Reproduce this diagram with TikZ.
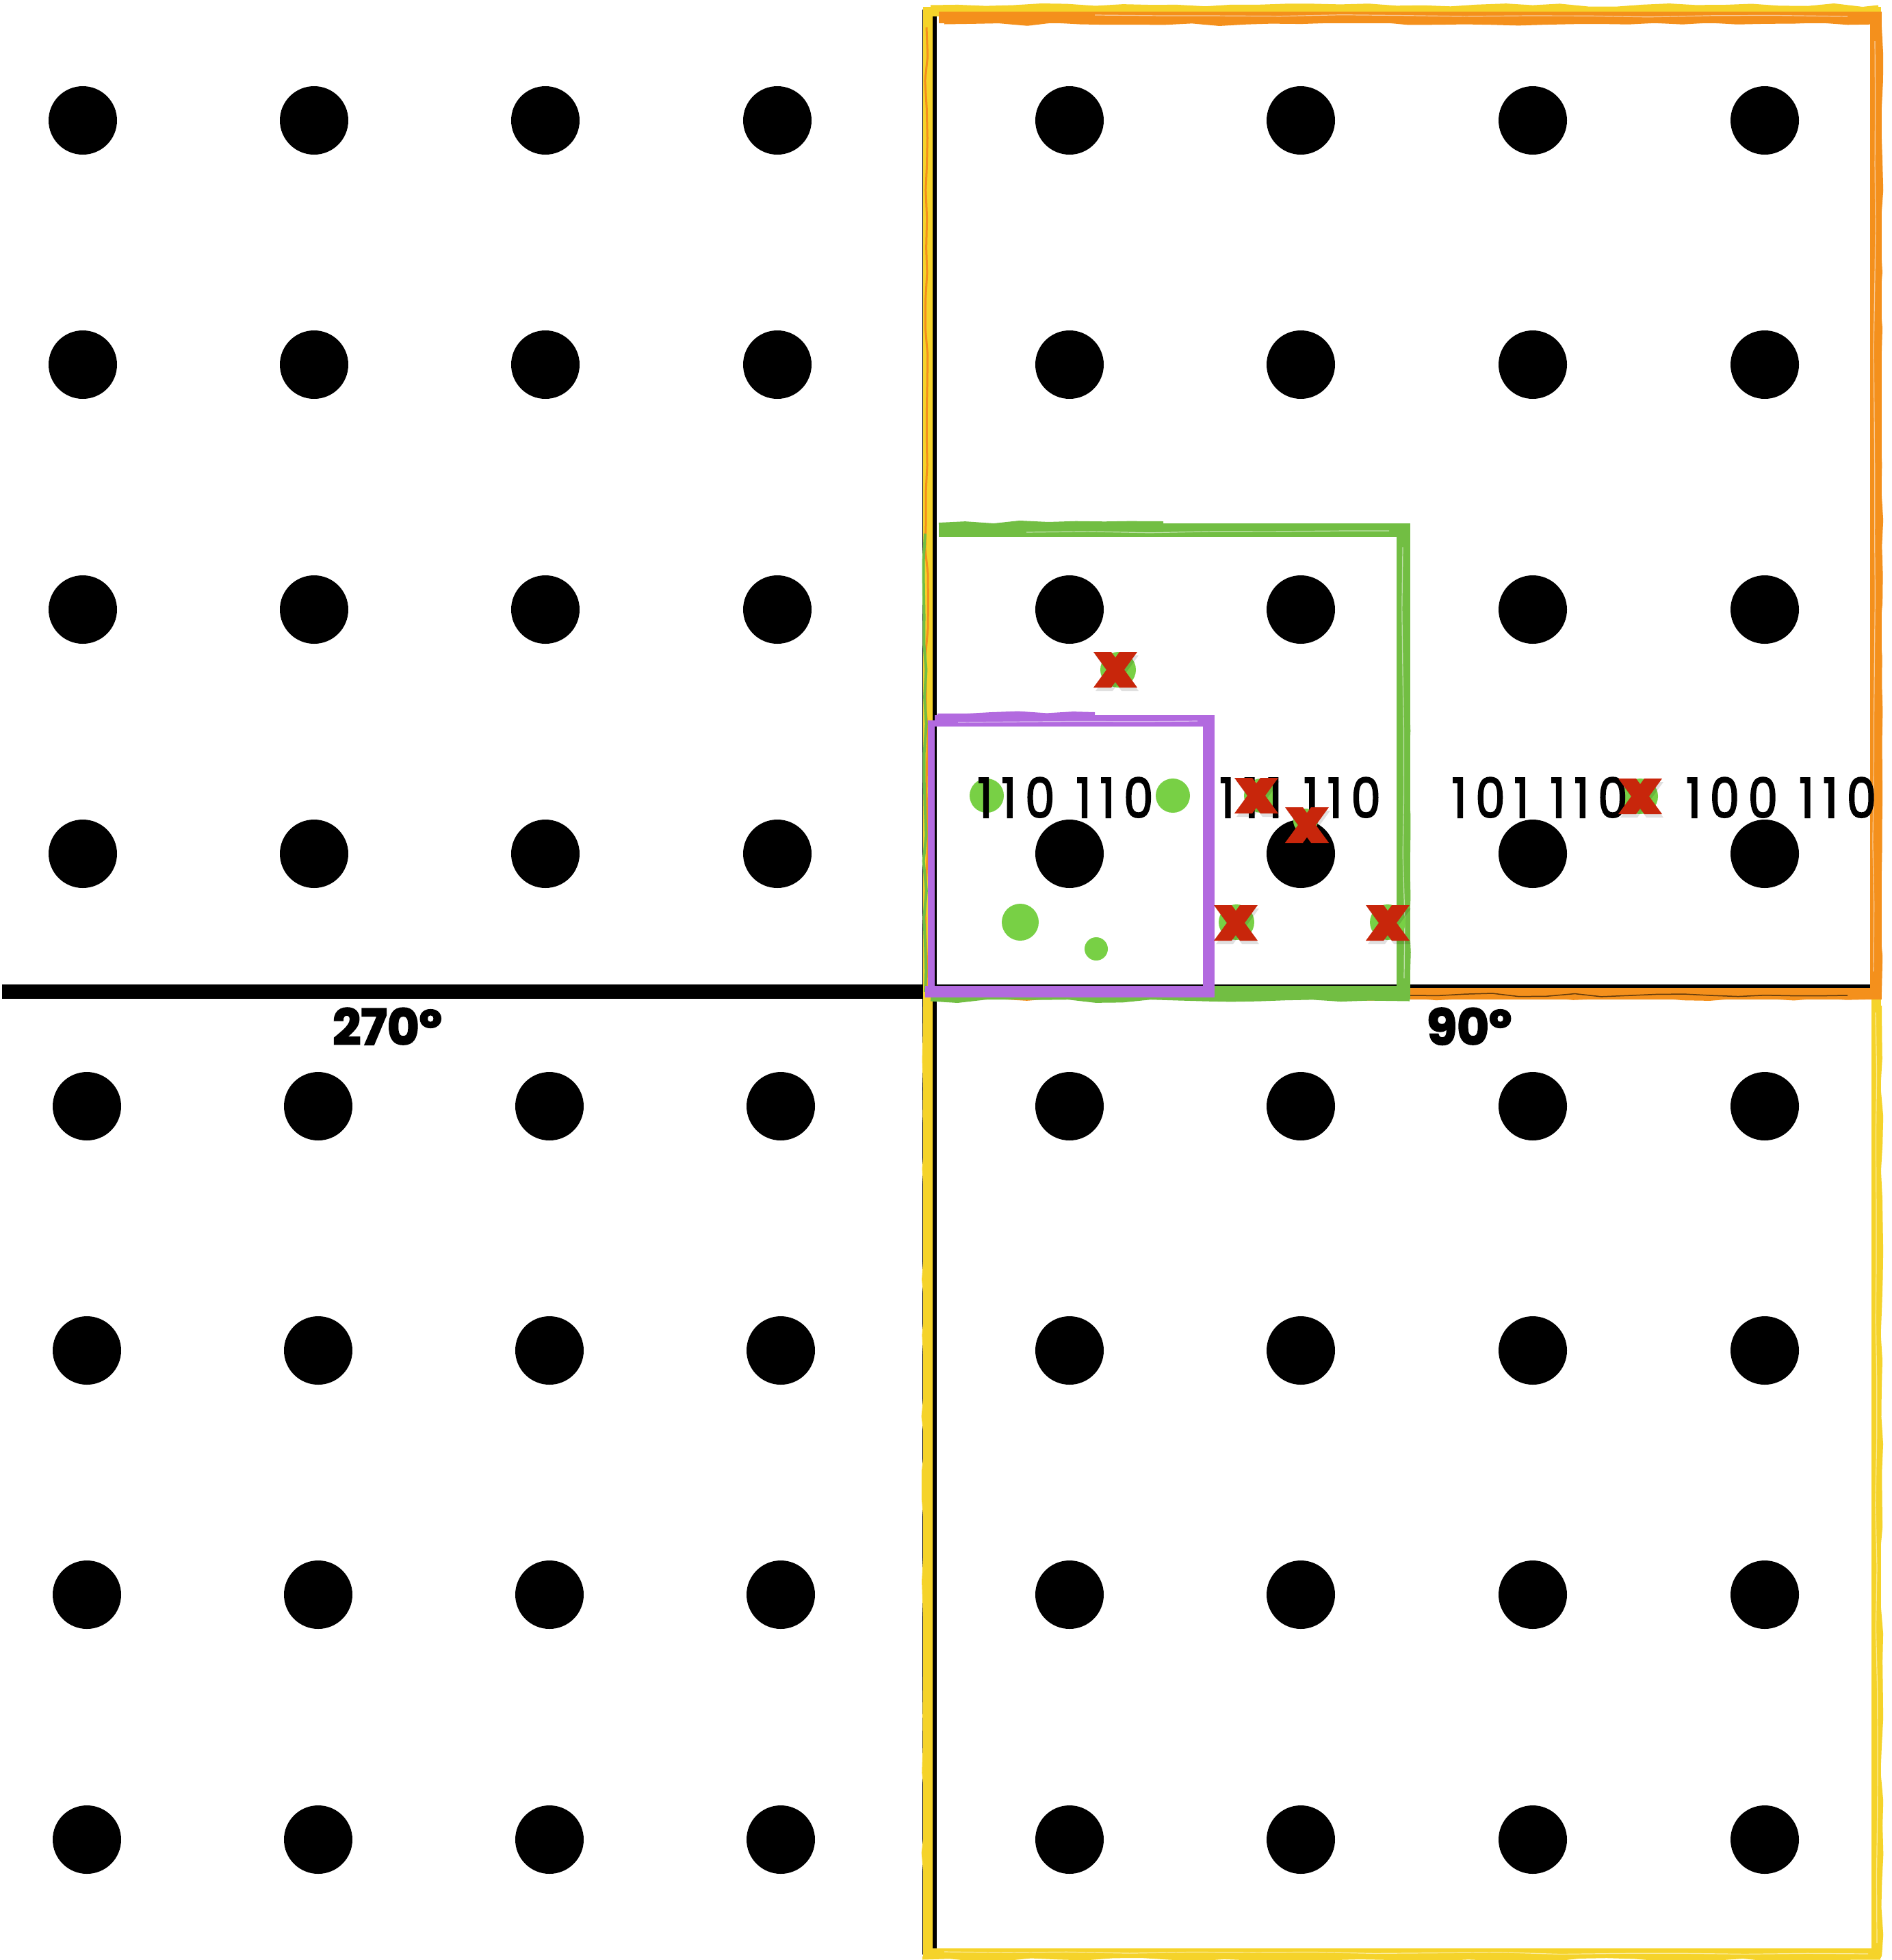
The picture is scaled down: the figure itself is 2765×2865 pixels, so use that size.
\documentclass[tikz,border=0pt]{standalone}
\usepackage{fontspec}
\usetikzlibrary{decorations.pathmorphing}
\newfontfamily\popfont[FakeStretch=0.86,LetterSpace=16,FakeBold=2.5]{Poppins}
\newfontfamily\popbold[FakeBold=3]{Poppins}
\definecolor{orng}{HTML}{F4901C}
\definecolor{yel}{HTML}{F5D32A}
\definecolor{grn}{HTML}{72BE43}
\definecolor{gdot}{HTML}{78D045}
\definecolor{purp}{HTML}{B26ADF}
\definecolor{xred}{HTML}{C8260B}
\newcommand{\redcross}[2]{%
  \begin{scope}[shift={(#1,#2)}]
    \fill[black, opacity=0.12] (-29,-21)--(-4,-21)--(34,31)--(9,31)--cycle;
    \fill[black, opacity=0.12] (9,-21)--(34,-21)--(-4,31)--(-29,31)--cycle;
    \fill[xred] (-32,-26)--(-6,-26)--(32,26)--(6,26)--cycle;
    \fill[xred] (6,-26)--(32,-26)--(-6,26)--(-32,26)--cycle;
  \end{scope}}
\begin{document}
\begin{tikzpicture}[x=1pt,y=-1pt,
  dot/.style={circle,fill=black,inner sep=0pt,minimum size=100pt},
  gd/.style={circle,fill=gdot,inner sep=0pt},
  lab/.style={font=\popfont\fontsize{80}{90}\selectfont,inner sep=0pt,anchor=base},
  ang/.style={font=\popbold\bfseries\fontsize{72}{80}\selectfont,inner sep=0pt,anchor=base},
  rough/.style={decorate,decoration={random steps,segment length=40pt,amplitude=2.5pt}},
  streak/.style={white,line width=1.2pt,opacity=0.55,decorate,decoration={random steps,segment length=90pt,amplitude=1.5pt}}]
\pgfmathsetseed{7}
\useasboundingbox (0,0) rectangle (2765,2865);
\fill[white] (0,0) rectangle (2765,2865);
% axes
\draw[line width=21pt] (3,1449) -- (2735,1449);
\draw[line width=21pt] (1358,14) -- (1358,2857);
% black dots
\foreach \c [count=\i] in {121,459,797,1136}
  \foreach \r [count=\j] in {176,533,891,1248}
    \node[dot] (ul\i\j) at (\c,\r) {};
\foreach \c [count=\i] in {127,465,803,1141}
  \foreach \r [count=\j] in {1617,1974,2331,2689}
    \node[dot] (ll\i\j) at (\c,\r) {};
\foreach \c [count=\i] in {1563,1901,2240,2579}
  \foreach \r [count=\j] in {176,533,891,1248,1617,1974,2331,2689}
    \node[dot] (r\i\j) at (\c,\r) {};
% yellow frame
\draw[yel, line width=14pt] (1356,17) rectangle (2742,2855);
\draw[yel, line width=5pt, rough] (1360,10) -- (2745,10);
\draw[yel, line width=5pt, rough] (1348,2862) -- (2748,2862);
\draw[yel, line width=4pt, rough] (2748,1470) -- (2748,2860);
\draw[streak] (1380,2853) -- (2730,2856);
\draw[streak] (2741,1480) -- (2743,2840);
\draw[yel, line width=4pt, rough] (1351,1470) -- (1351,2855);
% orange frame
\draw[orng, line width=17pt] (1372,25) -- (2741,25) -- (2741,1452) -- (1370,1452);
\draw[orng, line width=5pt, rough] (1380,33) -- (2745,33);
\draw[orng, line width=5pt, rough] (1380,1458) -- (2745,1458);
\draw[orng, line width=4pt, rough] (2748,40) -- (2748,1450);
\draw[orng, line width=3pt, rough] (1354,40) -- (1354,1450);
\draw[streak] (1600,22) -- (2700,24);
\draw[streak] (2740,60) -- (2738,1420);
\draw[black, line width=1.5pt, opacity=0.6, rough] (1420,1453) -- (2700,1455);
% green frame
\draw[grn, line width=20pt] (1372,775) -- (2051,775) -- (2051,1451) -- (1360,1451);
\draw[grn, line width=6pt, rough] (1372,767) -- (1700,765);
\draw[grn, line width=5pt, rough] (1360,1461) -- (2060,1461);
\draw[grn, line width=4pt, rough] (2058,790) -- (2058,1450);
\draw[grn, line width=4pt, rough] (1352,780) -- (1352,1450);
\draw[streak] (2050,800) -- (2052,1430);
\draw[streak] (1500,778) -- (2030,776);
% purple frame
\draw[purp, line width=17pt] (1366,1053) -- (1766,1053) -- (1766,1449) -- (1352,1449);
\draw[purp, line width=6pt, rough] (1370,1046) -- (1600,1044);
\draw[purp, line width=10pt] (1361,1053) -- (1361,1449);
\draw[streak] (1400,1056) -- (1750,1054);
% green dots
\node[gd, minimum size=50pt] (g1) at (1442,1163) {};
\node[gd, minimum size=50pt] (g2) at (1714,1163) {};
\node[gd, minimum size=50pt] (g3) at (1843,1163) {};
\node[gd, minimum size=36pt] (g4) at (1908,1200) {};
\node[gd, minimum size=52pt] (g5) at (2397,1164) {};
\node[gd, minimum size=52pt] (g6) at (1807,1348) {};
\node[gd, minimum size=52pt] (g7) at (2028,1348) {};
\node[gd, minimum size=54pt] (g8) at (1491,1348) {};
\node[gd, minimum size=34pt] (g9) at (1602,1387) {};
\node[gd, minimum size=52pt] (g10) at (1634,979) {};
% labels
\node[lab] (t1) at (1557,1195) {110 110};
\node[lab] (t2) at (1900,1195) {111 110};
\node[lab] (t3) at (2250,1195) {101 110};
\node[lab] (t4) at (2603,1195) {100 110};
\node[ang] (a270) at (566,1527) {270º};
\node[ang] (a90) at (2147,1527) {90º};
% red crosses
\redcross{1630}{979}
\redcross{1836}{1163}
\redcross{1910}{1206}
\redcross{2397}{1164}
\redcross{1806}{1349}
\redcross{2028}{1349}
\end{tikzpicture}
\end{document}
